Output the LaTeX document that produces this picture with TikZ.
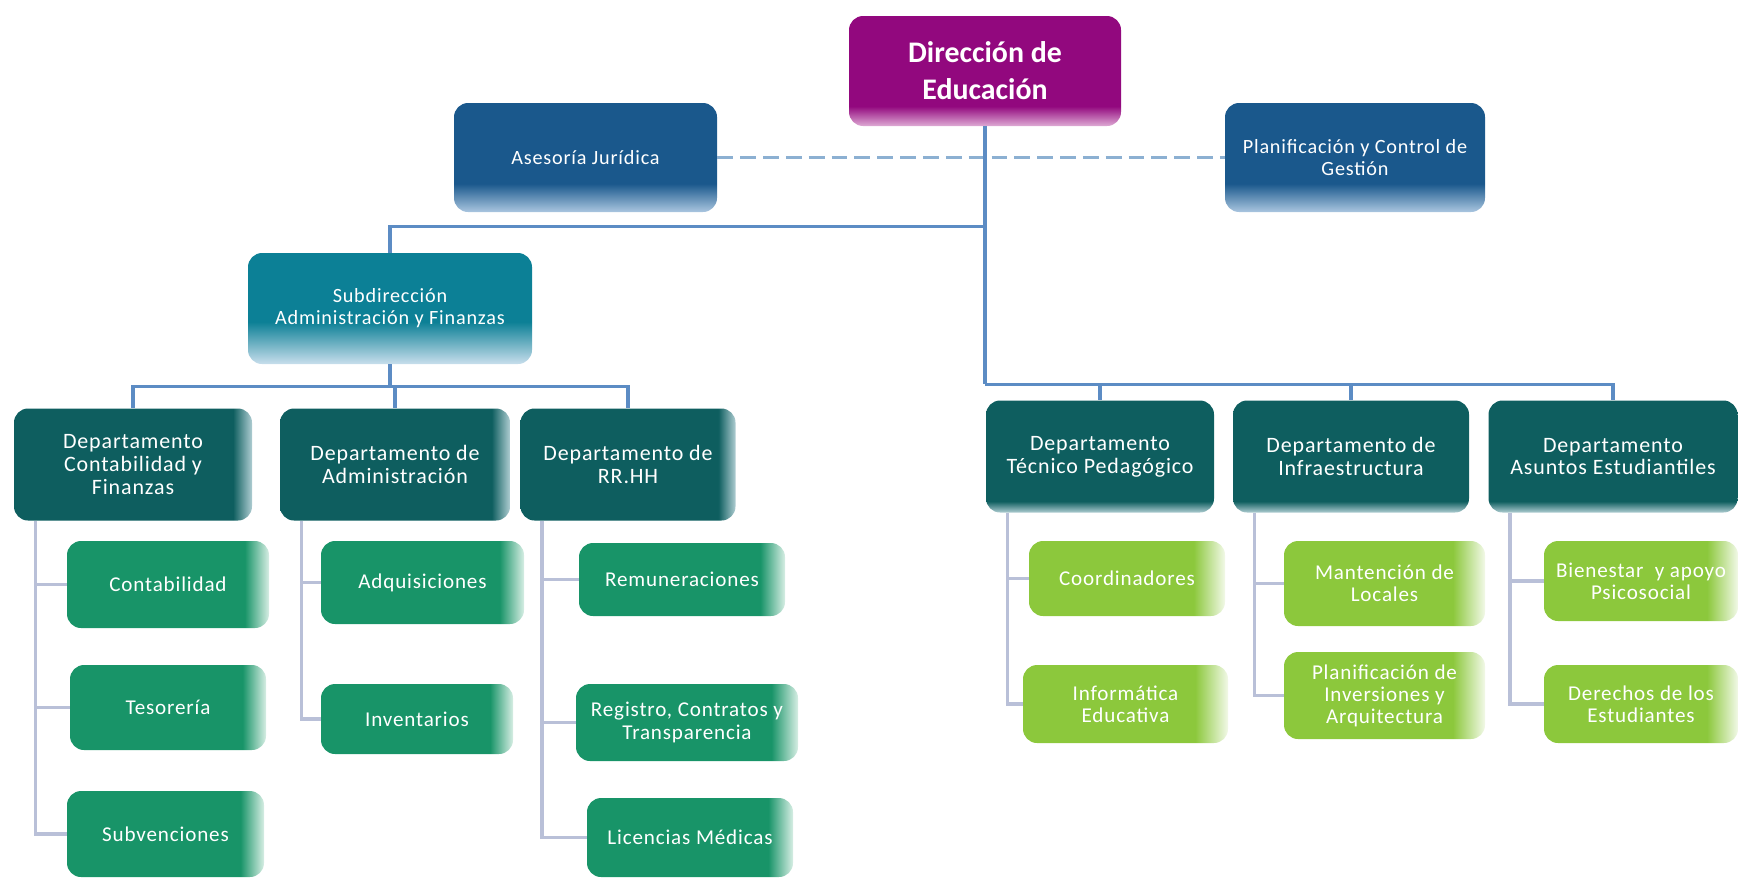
\documentclass[tikz,border=0pt]{standalone}
\usepackage{fontspec}
\setmainfont{Carlito}
\newfontfamily\spaced{Carlito}[LetterSpace=4]
\usepackage{tikz}
\usetikzlibrary{positioning}

\definecolor{dircol}{RGB}{146,8,126}
\definecolor{dirlight}{RGB}{222,170,212}
\definecolor{asecol}{RGB}{26,88,140}
\definecolor{aselight}{RGB}{170,198,224}
\definecolor{subcol}{RGB}{12,128,150}
\definecolor{sublight}{RGB}{200,222,236}
\definecolor{deptcol}{RGB}{14,94,95}
\definecolor{deptlight}{RGB}{175,205,210}
\definecolor{greencol}{RGB}{24,148,104}
\definecolor{greenlight}{RGB}{215,238,228}
\definecolor{limecol}{RGB}{140,200,60}
\definecolor{limelight}{RGB}{242,249,232}
\definecolor{linkcol}{RGB}{92,140,196}
\definecolor{dashcol}{RGB}{140,176,210}
\definecolor{bracketcol}{RGB}{185,192,216}

\pgfdeclareverticalshading{dirfade}{100bp}{color(0bp)=(dirlight); color(25bp)=(dirlight); color(34bp)=(dircol); color(100bp)=(dircol)}
\pgfdeclareverticalshading{asefade}{100bp}{color(0bp)=(aselight); color(25bp)=(aselight); color(38bp)=(asecol); color(100bp)=(asecol)}
\pgfdeclareverticalshading{subfade}{100bp}{color(0bp)=(sublight); color(25bp)=(sublight); color(44bp)=(subcol); color(100bp)=(subcol)}
\pgfdeclarehorizontalshading{deptfade}{100bp}{color(0bp)=(deptcol); color(71bp)=(deptcol); color(75bp)=(deptlight); color(100bp)=(deptlight)}
\pgfdeclareverticalshading{deptfadeb}{100bp}{color(0bp)=(deptlight); color(25bp)=(deptlight); color(30bp)=(deptcol); color(100bp)=(deptcol)}
\pgfdeclarehorizontalshading{greenfade}{100bp}{color(0bp)=(greencol); color(69bp)=(greencol); color(75bp)=(greenlight); color(100bp)=(greenlight)}
\pgfdeclarehorizontalshading{limefade}{100bp}{color(0bp)=(limecol); color(67bp)=(limecol); color(75bp)=(limelight); color(100bp)=(limelight)}

\begin{document}
\begin{tikzpicture}[
        top box/.style={rounded corners=8pt, shade, text=white, align=center, inner sep=2pt},
        dir box/.style={top box, shading=dirfade, font=\bfseries\fontsize{17}{21}\selectfont, minimum width=5.44cm, minimum height=2.2cm},
        staff box/.style={top box, shading=asefade, font=\spaced\fontsize{11.5}{13}\selectfont, minimum width=5.2cm, minimum height=2.18cm},
        sub box/.style={top box, shading=subfade, font=\spaced\fontsize{11.5}{12.5}\selectfont, minimum width=5.68cm, minimum height=2.22cm},
        dept box/.style={top box, shading=deptfade, font=\spaced\fontsize{12.5}{13}\selectfont, minimum height=2.24cm},
        dept box right/.style={dept box, shading=deptfadeb},
        unit box/.style={top box, shading=greenfade, font=\spaced\fontsize{12}{13}\selectfont, minimum width=4cm, minimum height=1.6cm},
        lime box/.style={top box, shading=limefade, font=\spaced\fontsize{12}{12.5}\selectfont, minimum width=3.95cm, minimum height=1.56cm},
        main link/.style={draw=linkcol, line width=2pt},
        staff link/.style={draw=dashcol, line width=2pt, dash pattern=on 9pt off 4pt},
        unit link/.style={draw=bracketcol, line width=2pt}
    ]
        \useasboundingbox (0,0) rectangle (34.76,-17.54);

        % Direction and staff
        \node[dir box] (dir) at (19.70,-1.42) {Dirección de\\Educación};
        \node[staff box, minimum width=5.26cm] (ase) at (11.71,-3.15) {Asesoría Jurídica};
        \node[staff box] (plan) at (27.10,-3.15) {Planificación y Control de\\Gestión};
        \draw[staff link] (ase.east) -- (plan.west);

        % Subdirection
        \node[sub box] (sub) at (7.80,-6.17) {Subdirección\\Administración y Finanzas};

        % Departments
        \node[dept box, minimum width=4.76cm] (dcf) at (2.66,-9.29) {Departamento\\Contabilidad y\\Finanzas};
        \node[dept box, minimum width=4.60cm] (dadm) at (7.90,-9.29) {Departamento de\\Administración};
        \node[dept box, minimum width=4.30cm] (drh) at (12.56,-9.29) {Departamento de\\RR.HH};
        \node[dept box right, minimum width=4.56cm] (dtp) at (22.00,-9.13) {Departamento\\Técnico Pedagógico};
        \node[dept box right, minimum width=4.72cm] (dinf) at (27.02,-9.13) {Departamento de\\Infraestructura};
        \node[dept box right, minimum width=4.98cm] (dae) at (32.26,-9.13) {Departamento\\Asuntos Estudiantiles};

        % Units
        \node[unit box, minimum width=4.04cm, minimum height=1.74cm] (cont) at (3.36,-11.69) {Contabilidad};
        \node[unit box, minimum width=3.92cm, minimum height=1.70cm] (teso) at (3.36,-14.15) {Tesorería};
        \node[unit box, minimum width=3.94cm, minimum height=1.72cm] (subv) at (3.31,-16.68) {Subvenciones};
        \node[unit box, minimum width=4.06cm, minimum height=1.66cm] (adq) at (8.45,-11.65) {Adquisiciones};
        \node[unit box, minimum width=3.84cm, minimum height=1.40cm] (inv) at (8.34,-14.38) {Inventarios};
        \node[unit box, minimum width=4.12cm, minimum height=1.46cm] (rem) at (13.64,-11.59) {Remuneraciones};
        \node[unit box, minimum width=4.44cm, minimum height=1.54cm] (reg) at (13.74,-14.45) {Registro, Contratos y\\Transparencia};
        \node[unit box, minimum width=4.12cm, minimum height=1.58cm] (lic) at (13.80,-16.75) {Licencias Médicas};

        \node[lime box, minimum width=3.92cm, minimum height=1.50cm] (coord) at (22.54,-11.57) {Coordinadores};
        \node[lime box, minimum width=4.10cm] (info) at (22.51,-14.08) {Informática\\Educativa};
        \node[lime box, minimum width=4.02cm, minimum height=1.70cm] (mant) at (27.69,-11.67) {Mantención de\\Locales};
        \node[lime box, minimum width=4.02cm, minimum height=1.74cm] (pinv) at (27.69,-13.91) {Planificación de\\Inversiones y\\Arquitectura};
        \node[lime box, minimum width=3.88cm, minimum height=1.60cm] (bien) at (32.82,-11.62) {Bienestar~ y apoyo\\Psicosocial};
        \node[lime box, minimum width=3.88cm] (der) at (32.82,-14.08) {Derechos de los\\Estudiantes};

        % Links
        \draw[main link] (dir.south) -- ++(0,-2.0) -| (sub.north);
        \draw[main link] (dir.south) -- ++(0,-5.16) coordinate (busR);
        \foreach \d in {dtp,dinf,dae}
        {
            \draw[main link] (busR) -| (\d.north);
        }
        \draw[main link] (sub.south) -- ++(0,-0.44) coordinate (busL);
        \foreach \d in {dcf,dadm,drh}
        {
            \draw[main link] (busL) -| (\d.north);
        }
        \foreach \d/\u in {dcf/cont, dcf/teso, dcf/subv, dadm/adq, dadm/inv, drh/rem, drh/reg, drh/lic,
                           dtp/coord, dtp/info, dinf/mant, dinf/pinv, dae/bien, dae/der}
        {
            \draw[unit link] ([xshift=4.4mm]\d.south west) |- (\u.west);
        }

    \end{tikzpicture}
\end{document}
